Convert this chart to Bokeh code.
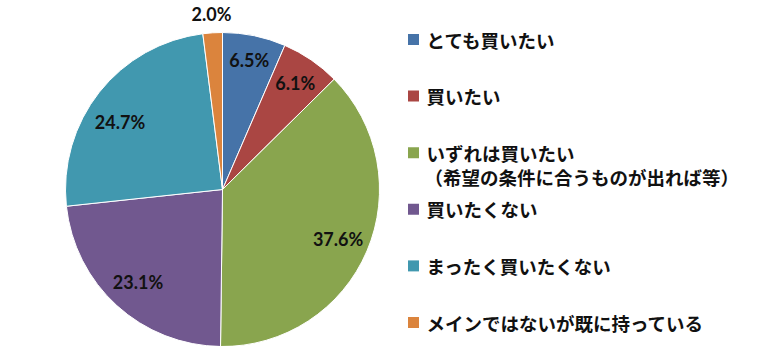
import math
from bokeh.plotting import figure
from bokeh.models import Range1d, ColumnDataSource
from bokeh.core.properties import value
from bokeh.embed import file_html
from bokeh.resources import INLINE

categories = [
    "とても買いたい",
    "買いたい",
    "いずれは買いたい\n（希望の条件に合うものが出れば等）",
    "買いたくない",
    "まったく買いたくない",
    "メインではないが既に持っている",
]
percentages = [6.5, 6.1, 37.6, 23.1, 24.7, 2.0]
colors = ["#4673A8", "#AA4643", "#89A54E", "#71588F", "#4198AF", "#DB843D"]

W, H = 753, 346
IMG_H = 362

def fy(y):
    return IMG_H - y

p = figure(width=W, height=H, output_backend="svg", toolbar_location=None,
           x_range=Range1d(0, W), y_range=Range1d(IMG_H - H, IMG_H),
           min_border=0)
p.axis.visible = False
p.grid.visible = False
p.outline_line_color = None
p.background_fill_color = "white"

cx, cy, r = 222, fy(189), 157
total = sum(percentages)
starts, ends, lx, ly, ltxt = [], [], [], [], []
cum = 0.0
label_r = [0.84, 0.82, 0.8, 0.8, 0.78, 1.12]
for i, v in enumerate(percentages):
    a0 = math.pi / 2 - cum / total * 2 * math.pi
    a1 = math.pi / 2 - (cum + v) / total * 2 * math.pi
    starts.append(a0)
    ends.append(a1)
    mid = (a0 + a1) / 2
    if i == 4:
        mid += 0.09
    lx.append(cx + label_r[i] * r * math.cos(mid))
    ly.append(cy + label_r[i] * r * math.sin(mid))
    ltxt.append(f"{v:.1f}%")
    cum += v

src = ColumnDataSource(dict(start=starts, end=ends, color=colors))
p.wedge(x=cx, y=cy, radius=r, start_angle="start", end_angle="end",
        direction="clock", fill_color="color", line_color="white",
        line_width=1, source=src)

p.text(x=lx, y=ly, text=ltxt, text_align="center", text_baseline="middle",
       text_font=value("Lato"), text_font_style="bold", text_font_size="18px",
       text_color="#111111")

# legend
sq_x, tx_x = 413, 426
row0, step = 39, 56.6
sq_y, t_x, t_y, t_txt = [], [], [], []
for i, lab in enumerate(categories):
    yy = row0 + i * step
    sq_y.append(fy(yy))
    for j, line in enumerate(lab.split("\n")):
        t_x.append(tx_x - (2 if j > 0 else 0))
        t_y.append(fy(yy + j * 24))
        t_txt.append(line)

p.scatter(x=[sq_x] * len(categories), y=sq_y, marker="square", size=11,
          fill_color=colors, line_color=None)
p.text(x=t_x, y=t_y, text=t_txt, text_align="left", text_baseline="middle",
       text_font=value("Noto Sans CJK JP"), text_font_style="bold",
       text_font_size="18.5px", text_color="#111111")

open("out.html", "w").write(file_html(p, INLINE))
